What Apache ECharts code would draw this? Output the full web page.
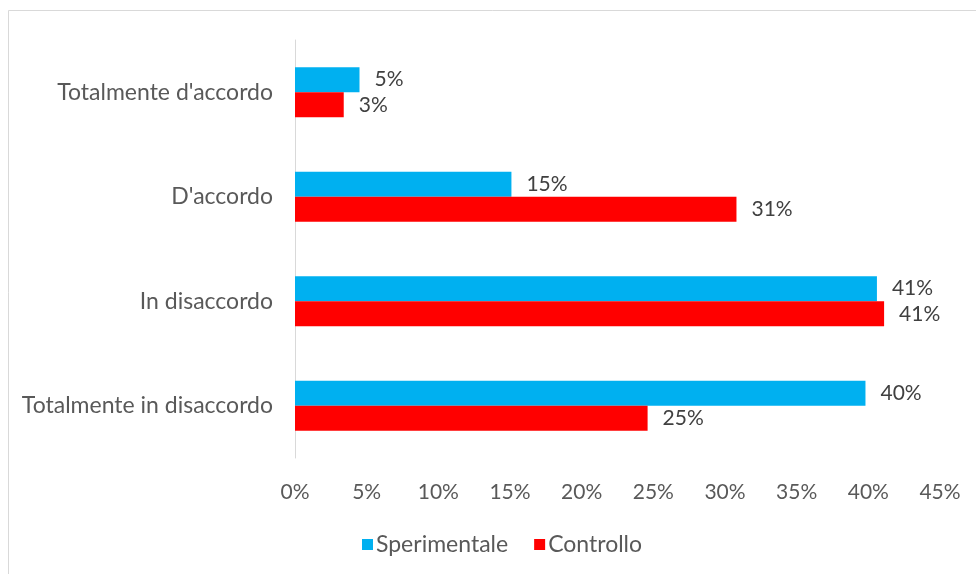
<!DOCTYPE html>
<html>
<head>
<meta charset="utf-8">
<script src="https://cdn.jsdelivr.net/npm/echarts@6/dist/echarts.min.js"></script>
<style>
  html, body { margin: 0; padding: 0; background: #fff; }
  #chart { width: 976px; height: 574px; }
</style>
</head>
<body>
<div id="chart"></div>
<script>
// Response categories, top to bottom
const categories = ['Totalmente d\'accordo', 'D\'accordo', 'In disaccordo', 'Totalmente in disaccordo'];
// Share of answers (%) per group
const sperimentale = [4.5, 15.1, 40.6, 39.8];
const controllo = [3.4, 30.8, 41.1, 24.6];
// X axis range and step (%)
const axisMax = 45;
const axisStep = 5;

const FONT = 'Lato, "Open Sans", sans-serif';
const chart = echarts.init(document.getElementById('chart'));

const labelOpt = {
  show: true,
  position: 'right',
  distance: 15,
  color: '#404040',
  fontFamily: FONT,
  fontSize: 21,
  formatter: p => Math.round(p.value) + '%'
};

chart.setOption({
  animation: false,
  backgroundColor: '#fff',
  graphic: [{
    type: 'rect',
    shape: { x: 8.5, y: 10.5, width: 990, height: 600 },
    style: { fill: 'none', stroke: '#d9d9d9', lineWidth: 1 },
    silent: true
  }],
  grid: { left: 295, right: 36, top: 40, bottom: 116, containLabel: false },
  legend: {
    bottom: 18,
    left: 362,
    padding: 0,
    itemWidth: 11,
    itemHeight: 11,
    itemGap: 26,
    icon: 'rect',
    textStyle: { color: '#595959', fontFamily: FONT, fontSize: 23, padding: [0, 0, 0, -2] },
    data: ['Sperimentale', 'Controllo']
  },
  xAxis: {
    type: 'value',
    min: 0,
    max: axisMax,
    interval: axisStep,
    axisLine: { show: false },
    axisTick: { show: false },
    splitLine: { show: false },
    axisLabel: {
      color: '#595959', fontFamily: FONT, fontSize: 21, margin: 24,
      formatter: v => v + '%'
    }
  },
  yAxis: {
    type: 'category',
    inverse: true,
    data: categories,
    axisLine: { show: true, lineStyle: { color: '#d9d9d9', width: 1 } },
    axisTick: { show: false },
    axisLabel: { color: '#595959', fontFamily: FONT, fontSize: 23, margin: 22 }
  },
  series: [
    {
      name: 'Sperimentale', type: 'bar', data: sperimentale,
      itemStyle: { color: '#00B0F0' },
      barGap: '0%', barCategoryGap: '52%',
      label: labelOpt
    },
    {
      name: 'Controllo', type: 'bar', data: controllo,
      itemStyle: { color: '#FF0000' },
      barGap: '0%', barCategoryGap: '52%',
      label: labelOpt
    }
  ]
});
</script>
</body>
</html>
